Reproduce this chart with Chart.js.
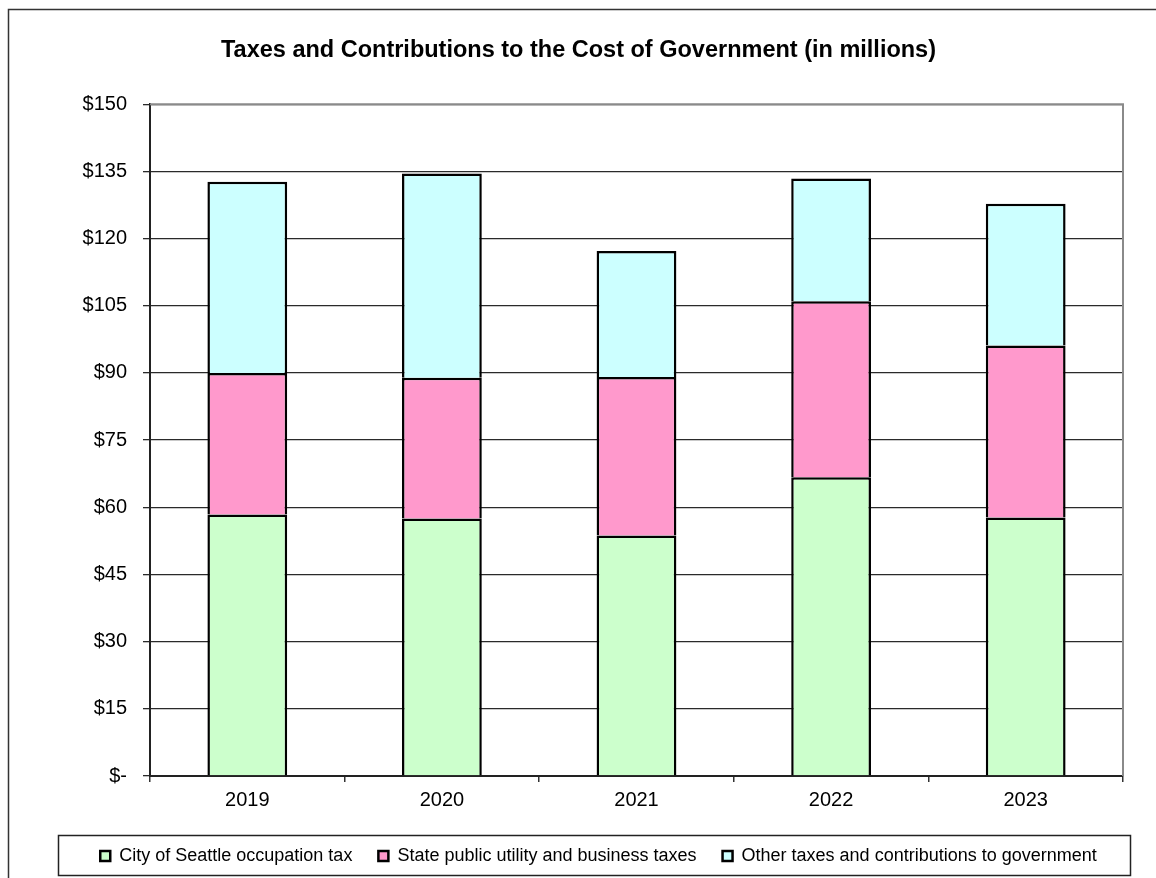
<!DOCTYPE html>
<html>
<head>
<meta charset="utf-8">
<script src="https://cdn.jsdelivr.net/npm/chart.js@4/dist/chart.umd.min.js"></script>
<style>
  html, body { margin: 0; padding: 0; background: #fff; }
  #wrap { width: 1156px; height: 878px; position: relative; }
</style>
</head>
<body>
<div id="wrap"><canvas id="c" width="1156" height="878"></canvas></div>
<script>
const categories = ['2019', '2020', '2021', '2022', '2023'];
const seattleOccupationTax = [58.4, 57.5, 53.7, 66.7, 57.7];
const statePublicUtilityTaxes = [31.6, 31.4, 35.4, 39.3, 38.4];
const otherTaxesContributions = [42.7, 45.6, 28.1, 27.4, 31.7];
const seriesNames = ['City of Seattle occupation tax', 'State public utility and business taxes', 'Other taxes and contributions to government'];
const yTicks = [0, 15, 30, 45, 60, 75, 90, 105, 120, 135, 150];
const titleText = 'Taxes and Contributions to the Cost of Government (in millions)';

const FONT = "'Liberation Sans', Arial, sans-serif";

const decor = {
  id: 'decor',
  afterLayout(chart) {
    if (chart.titleBlock) { chart.titleBlock.left += 17; chart.titleBlock.right += 17; }
    if (chart.legend) { chart.legend.left += 37; chart.legend.right += 37; }
  },
  afterDraw(chart) {
    const ctx = chart.ctx;
    const a = chart.chartArea;
    ctx.save();
    // outer frame (left and top visible)
    ctx.strokeStyle = '#333';
    ctx.lineWidth = 1.5;
    ctx.strokeRect(8.5, 9.5, 1200, 1000);
    // chart area top/right border
    ctx.strokeStyle = '#8a8a8a';
    ctx.lineWidth = 2;
    ctx.beginPath();
    ctx.moveTo(a.left, a.top);
    ctx.lineTo(a.right, a.top);
    ctx.lineTo(a.right, a.bottom);
    ctx.stroke();
    // legend box
    ctx.strokeStyle = '#222';
    ctx.lineWidth = 1.5;
    ctx.strokeRect(58.5, 835.5, 1072, 40);
    ctx.restore();
  }
};

new Chart(document.getElementById('c'), {
  type: 'bar',
  data: {
    labels: categories,
    datasets: [
      { label: seriesNames[0], data: seattleOccupationTax, backgroundColor: '#CCFFCC', borderColor: '#000', borderWidth: 2.5 },
      { label: seriesNames[1], data: statePublicUtilityTaxes, backgroundColor: '#FF99CC', borderColor: '#000', borderWidth: 2.5 },
      { label: seriesNames[2], data: otherTaxesContributions, backgroundColor: '#CCFFFF', borderColor: '#000', borderWidth: 2.5 }
    ]
  },
  options: {
    responsive: false,
    animation: false,
    devicePixelRatio: 1,
    layout: { padding: { left: 0, right: 33, top: 0, bottom: 3 } },
    datasets: { bar: { categoryPercentage: 1, barPercentage: 0.41 } },
    plugins: {
      title: {
        display: true,
        text: titleText,
        color: '#000',
        font: { family: FONT, size: 23.5, weight: 'bold', lineHeight: 1.2 },
        padding: { top: 36, bottom: 40 }
      },
      legend: {
        position: 'bottom',
        labels: {
          color: '#000',
          font: { family: FONT, size: 18, lineHeight: 1.2 },
          boxWidth: 10,
          boxHeight: 10,
          padding: 26
        }
      },
      tooltip: { enabled: false }
    },
    scales: {
      x: {
        stacked: true,
        afterFit(scale) { scale.height = 45; },
        grid: { offset: true, drawOnChartArea: false, drawTicks: true, tickLength: 6, color: '#333', lineWidth: 1.5 },
        border: { color: '#222', width: 2 },
        ticks: { color: '#000', font: { family: FONT, size: 20 }, padding: 6 }
      },
      y: {
        stacked: true,
        min: 0,
        max: 150,
        afterFit(scale) { scale.width = 150; },
        afterBuildTicks(scale) { scale.ticks = yTicks.map(v => ({ value: v })); },
        grid: { color: '#2a2a2a', lineWidth: 1.3, tickLength: 7, drawTicks: true },
        border: { color: '#222', width: 2 },
        ticks: {
          color: '#000',
          font: { family: FONT, size: 20 },
          padding: 16,
          callback: v => v === 0 ? '$-' : '$' + v
        }
      }
    }
  },
  plugins: [decor]
});
</script>
</body>
</html>
